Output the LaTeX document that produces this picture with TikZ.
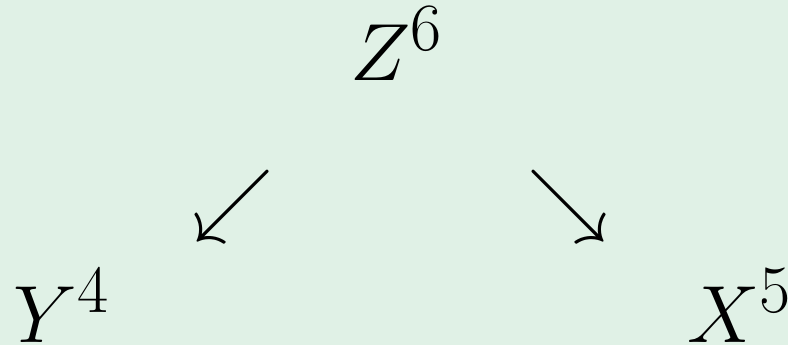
\documentclass[tikz,border=0pt]{standalone}
\usepackage{amsmath}
\definecolor{bgmint}{RGB}{224,241,230}
\begin{document}
\begin{tikzpicture}[x=0.3067pt,y=0.3067pt,
  lbl/.style={inner sep=0pt,outer sep=0pt,font=\Huge,anchor=base},
  arr/.style={inner sep=0pt,outer sep=0pt,font=\Huge,anchor=center}]
\fill[bgmint] (0,0) rectangle (788,345);
\useasboundingbox (0,0) rectangle (788,345);
\node[lbl] (z) at (397,265) {$Z^6$};
\node[lbl] (y) at (62,3) {$Y^4$};
\node[lbl] (x) at (740,3) {$X^5$};
\node[arr] (a1) at (233,138.5) {$\swarrow$};
\node[arr] (a2) at (568,138.5) {$\searrow$};
\end{tikzpicture}
\end{document}
